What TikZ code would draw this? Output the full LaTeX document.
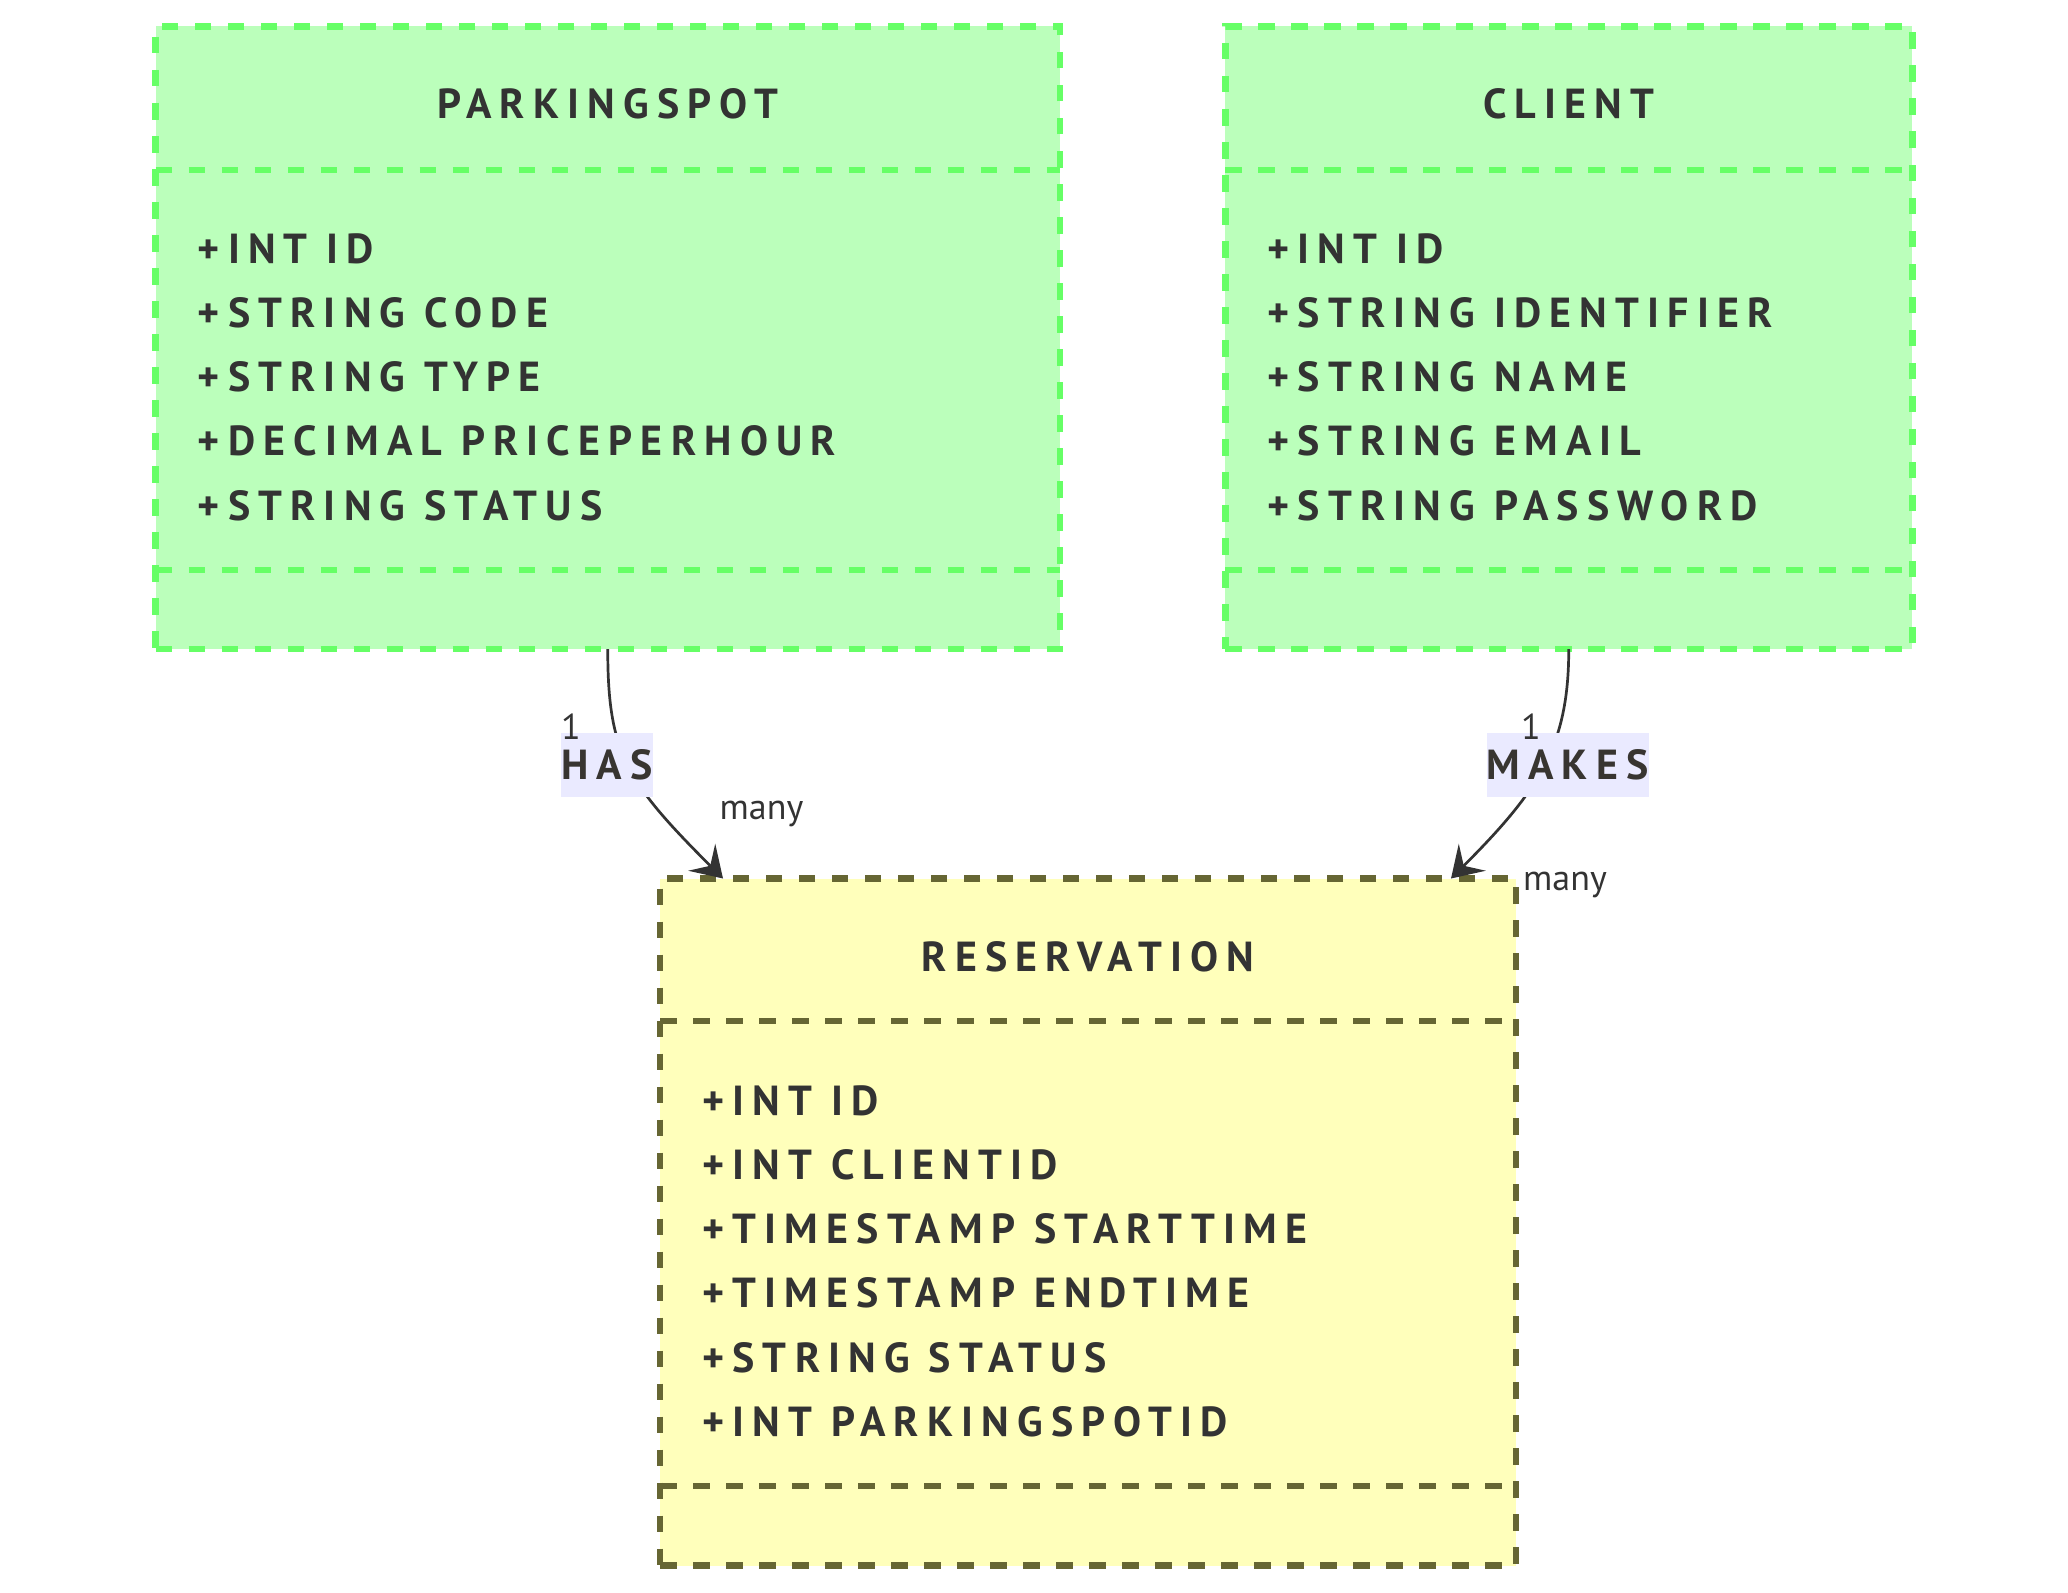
\documentclass[tikz,border=0pt]{standalone}
\usepackage{fontspec}
\setmainfont{PT Sans}
\newfontfamily\umlfont[LetterSpace=19.5]{PT Sans}
\usepackage{xcolor}
\usetikzlibrary{arrows.meta,positioning}
\definecolor{entfill}{HTML}{BBFFBB}
\definecolor{entedge}{HTML}{66FF66}
\definecolor{resfill}{HTML}{FFFFBB}
\definecolor{resedge}{HTML}{666633}
\definecolor{verbfill}{HTML}{EAEAFF}
\definecolor{ink}{HTML}{333333}

\begin{document}
\begin{tikzpicture}[
  x=1pt, y=-1pt,
  entity/.style={draw=entedge, fill=entfill, line width=6.5pt, dash pattern=on 16.5pt off 16.5pt, inner sep=0pt, outer sep=0pt},
  joined/.style={entity, draw=resedge, fill=resfill},
  divider/.style={line width=6.5pt, dash pattern=on 16.5pt off 16.5pt},
  title/.style={font=\umlfont\bfseries\fontsize{42}{50}\selectfont, text=ink, anchor=base, inner sep=0pt},
  attr/.style={font=\umlfont\bfseries\fontsize{42}{50}\selectfont, text=ink, anchor=base west, inner sep=0pt},
  verb/.style={fill=verbfill, font=\umlfont\bfseries\fontsize{42}{50}\selectfont, text=black!90!yellow, inner xsep=0pt, minimum height=64pt},
  mult/.style={font=\fontsize{36}{40}\selectfont, text=ink, anchor=base, inner sep=0pt},
  rel/.style={draw=ink, line width=2.7pt, -{Stealth[length=30pt, width=38pt, inset=12pt]}}
]
\useasboundingbox (0,0) rectangle (2068,1592);

\node[entity, minimum width=904.5pt, minimum height=622.5pt] (spot) at (607.75,337.75) {};
\node[entity, minimum width=687pt, minimum height=622.5pt] (client) at (1568.75,337.75) {};
\node[joined, minimum width=856pt, minimum height=687pt] (res) at (1088,1222) {};

\draw[divider, draw=entedge] ([yshift=-143.5pt]spot.north west) -- ([yshift=-143.5pt]spot.north east);
\draw[divider, draw=entedge] ([yshift=79pt]spot.south west) -- ([yshift=79pt]spot.south east);
\draw[divider, draw=entedge] ([yshift=-143.5pt]client.north west) -- ([yshift=-143.5pt]client.north east);
\draw[divider, draw=entedge] ([yshift=79pt]client.south west) -- ([yshift=79pt]client.south east);
\draw[divider, draw=resedge] ([yshift=-142.5pt]res.north west) -- ([yshift=-142.5pt]res.north east);
\draw[divider, draw=resedge] ([yshift=79.5pt]res.south west) -- ([yshift=79.5pt]res.south east);

\node[title] (spottitle) at ([yshift=-92.5pt]spot.north) {PARKINGSPOT};
\node[title] (clienttitle) at ([yshift=-92.5pt]client.north) {CLIENT};
\node[title] (restitle) at ([yshift=-92.5pt]res.north) {RESERVATION};

\foreach \a [count=\i from 0] in {+INT ID, +STRING CODE, +STRING TYPE, +DECIMAL PRICEPERHOUR, +STRING STATUS}
  \node[attr] (spotattr\i) at ([xshift=42pt, yshift={-236.5pt-64.25pt*\i}]spot.north west) {\a};
\foreach \a [count=\i from 0] in {+INT ID, +STRING IDENTIFIER, +STRING NAME, +STRING EMAIL, +STRING PASSWORD}
  \node[attr] (clientattr\i) at ([xshift=42pt, yshift={-236.5pt-64.25pt*\i}]client.north west) {\a};
\foreach \a [count=\i from 0] in {+INT ID, +INT CLIENTID, +TIMESTAMP STARTTIME, +TIMESTAMP ENDTIME, +STRING STATUS, +INT PARKINGSPOTID}
  \node[attr] (resattr\i) at ([xshift=42pt, yshift={-236.5pt-64.25pt*\i}]res.north west) {\a};

\coordinate (hasend) at ([xshift=63pt]res.north west);
\coordinate (makesend) at ([xshift=-65pt]res.north east);
\draw[rel] (spot.south) .. controls +(0,104) and +(-97,-97) .. (hasend);
\draw[rel] (client.south) .. controls +(0,96) and +(89,-89) .. (makesend);

\node[verb] (has) at (607,765) {HAS};
\node[verb] (makes) at (1567.5,765) {MAKES};

\node[mult] (hasone) at (571,739) {1};
\node[mult] (hasmany) at (761.5,819) {many};
\node[mult] (makesone) at (1531,739) {1};
\node[mult] (makesmany) at (1565,890) {many};
\end{tikzpicture}
\end{document}
